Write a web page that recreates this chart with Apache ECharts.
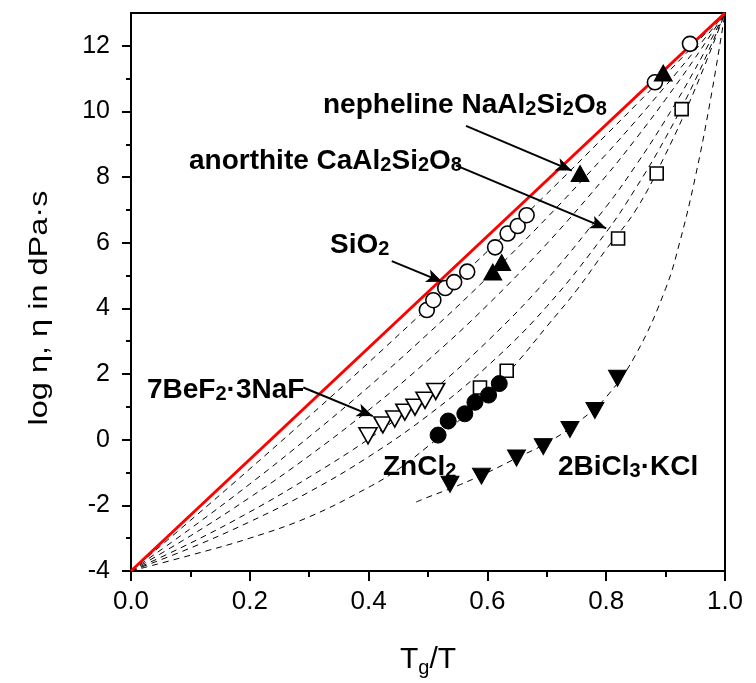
<!DOCTYPE html>
<html><head><meta charset="utf-8">
<script src="https://cdn.jsdelivr.net/npm/echarts@6/dist/echarts.min.js"></script>
<style>html,body{margin:0;padding:0;background:#fff}#c{width:756px;height:683px}</style>
</head><body><div id="c"></div>
<script>
// ---- data ----
const curveX = [0, 0.1, 0.2, 0.3, 0.4, 0.5, 0.6, 0.7, 0.8, 0.85, 0.9, 0.95, 1.0];
const curveA = [-4, -2.46, -0.89, 0.71, 2.35, 4.03, 5.74, 7.49, 9.29, 10.20, 11.12, 12.06, 13];
const curveB = [-4, -2.71, -1.35, 0.09, 1.61, 3.23, 4.94, 6.76, 8.70, 9.72, 10.78, 11.87, 13];
const curveC = [-4, -2.93, -1.76, -0.49, 0.90, 2.42, 4.10, 5.97, 8.04, 9.17, 10.37, 11.64, 13];
const curveD = [-4, -3.15, -2.20, -1.14, 0.02, 1.38, 3.00, 4.88, 7.10, 8.36, 9.75, 11.30, 13];
const curveE = [-4, -3.30, -2.50, -1.59, -0.52, 0.74, 2.24, 4.06, 6.32, 7.67, 9.20, 10.96, 13];
const curveFX = [0, 0.1, 0.2, 0.3, 0.4, 0.45, 0.5, 0.55, 0.6, 0.65, 0.7, 0.75, 0.8, 0.85, 0.9, 0.95, 1.0];
const curveF = [-4, -3.52, -3.0, -2.35, -1.45, -0.9, -0.2, 0.55, 1.35, 2.35, 3.45, 4.55, 5.8, 7.0, 8.7, 10.7, 13];
const curveGX = [0.48, 0.5, 0.55, 0.6, 0.65, 0.7, 0.75, 0.8, 0.85, 0.9, 0.925, 0.95, 0.975, 1.0];
const curveG = [-1.9, -1.75, -1.4, -1.0, -0.55, -0.1, 0.5, 1.3, 2.6, 4.6, 6.1, 8.0, 10.3, 13];
const arrhX = [0, 1];
const arrhY = [-4, 13];

const sio2X = [0.498, 0.509, 0.529, 0.544, 0.566, 0.613, 0.634, 0.651, 0.666, 0.882, 0.941];
const sio2Y = [3.95, 4.25, 4.62, 4.80, 5.12, 5.86, 6.28, 6.51, 6.84, 10.89, 12.06];
const nephX = [0.609, 0.624, 0.756, 0.896];
const nephY = [5.11, 5.40, 8.11, 11.17];
const anorX = [0.5875, 0.6325, 0.820, 0.885, 0.927];
const anorY = [1.59, 2.10, 6.13, 8.11, 10.07];
const zncX = [0.517, 0.534, 0.562, 0.579, 0.602, 0.620];
const zncY = [0.14, 0.57, 0.79, 1.14, 1.36, 1.71];
const befX = [0.399, 0.424, 0.444, 0.461, 0.478, 0.495, 0.513];
const befY = [0.12, 0.45, 0.63, 0.84, 0.99, 1.20, 1.47];
const bicX = [0.537, 0.590, 0.649, 0.694, 0.739, 0.781, 0.819];
const bicY = [-1.36, -1.11, -0.56, -0.21, 0.31, 0.89, 1.87];

const yMajor = [-4, -2, 0, 2, 4, 6, 8, 10, 12];
const yMinor = [-3, -1, 1, 3, 5, 7, 9, 11];

// arrows: [from, to] in data coordinates
const arrows = [
  [[0.564, 9.56], [0.742, 8.2]],
  [[0.547, 8.36], [0.800, 6.44]],
  [[0.439, 5.44], [0.524, 4.81]],
  [[0.290, 1.59], [0.407, 0.72]]
];

// ---- build ----
const zip = (xs, ys) => xs.map((x, i) => [x, ys[i]]);
const F = "'Liberation Sans', Arial, sans-serif";

function dashed(xs, ys) {
  return {type: 'line', data: zip(xs, ys), showSymbol: false, smooth: 0.4,
    silent: true, z: 1, lineStyle: {color: '#000', width: 1, type: [6, 5]}};
}
function scat(xs, ys, symbol, size, filled, rot) {
  return {type: 'scatter', data: zip(xs, ys), symbol: symbol, symbolSize: size, symbolRotate: rot || 0,
    z: 5, silent: true,
    itemStyle: filled ? {color: '#000', borderColor: '#000', borderWidth: 1, opacity: 1}
                      : {color: '#fff', borderColor: '#000', borderWidth: 1.6, opacity: 1}};
}

const chart = echarts.init(document.getElementById('c'), null, {renderer: 'canvas'});
const rich = {
  a: {fontSize: 28, fontWeight: 'bold', fontFamily: F, fill: '#000', color: '#000'},
  s: {fontSize: 20, fontWeight: 'bold', fontFamily: F, fill: '#000', color: '#000', padding: [8, 0, 0, 0]}
};
function txt(x, y, t) {
  return {type: 'text', x: x, y: y, silent: true, z: 100,
    style: {text: t, rich: rich, verticalAlign: 'middle', align: 'left', fill: '#000'}};
}

chart.setOption({
  animation: false,
  backgroundColor: '#fff',
  grid: {left: 131, right: 31, top: 13, bottom: 107, show: true, borderColor: '#000', borderWidth: 2, backgroundColor: 'transparent'},
  xAxis: {
    type: 'value', min: 0, max: 1, interval: 0.2,
    axisLine: {onZero: false, lineStyle: {color: '#000', width: 2}},
    axisTick: {length: 10, lineStyle: {color: '#000', width: 2}},
    minorTick: {show: true, splitNumber: 2, length: 6, lineStyle: {color: '#000', width: 2}},
    splitLine: {show: false}, minorSplitLine: {show: false},
    axisLabel: {formatter: v => v.toFixed(1), fontSize: 26, color: '#000', margin: 18, fontFamily: F},
    name: '{t|T}{s|g}{t|/T}', nameLocation: 'middle', nameGap: 71,
    nameTextStyle: {rich: {t: {fontSize: 30, fontFamily: F, color: '#000'}, s: {fontSize: 20, fontFamily: F, color: '#000', padding: [16, 0, 0, 0]}}}
  },
  yAxis: [{
    type: 'value', min: -4, max: 13,
    axisLine: {onZero: false, lineStyle: {color: '#000', width: 2}},
    axisTick: {length: 9, customValues: yMajor, lineStyle: {color: '#000', width: 2}},
    splitLine: {show: false},
    axisLabel: {customValues: yMajor, fontSize: 25, color: '#000', margin: 21, fontFamily: F}
  }, {
    type: 'value', min: -4, max: 13, position: 'left',
    axisLine: {show: false},
    axisTick: {length: 5, customValues: yMinor, lineStyle: {color: '#000', width: 2}},
    axisLabel: {show: false}, splitLine: {show: false}
  }],
  series: [
    dashed(curveX, curveA), dashed(curveX, curveB), dashed(curveX, curveC), dashed(curveX, curveD),
    dashed(curveX, curveE), dashed(curveFX, curveF), dashed(curveGX, curveG),
    {type: 'line', data: zip(arrhX, arrhY), showSymbol: false, silent: true, z: 3,
      lineStyle: {color: '#ff0000', width: 3},
      markLine: {silent: true, symbol: ['none', 'arrow'], symbolSize: [10, 16], animation: false,
        label: {show: false}, lineStyle: {color: '#000', width: 2, type: 'solid'},
        data: arrows.map(a => [{coord: a[0]}, {coord: a[1]}])}},
    scat(sio2X, sio2Y, 'circle', 15, false),
    scat(nephX, nephY, 'triangle', [18, 16], true),
    scat(anorX, anorY, 'rect', 13, false),
    scat(zncX, zncY, 'circle', 16, true),
    scat(befX, befY, 'triangle', [18, 16], false, 180),
    scat(bicX, bicY, 'triangle', [18, 16], true, 180)
  ],
  graphic: [
    {type: 'text', x: 40, y: 308, rotation: Math.PI / 2, scaleX: 1.3, scaleY: 1, silent: true, z: 100,
      style: {text: 'log η, η in dPa·s', font: "25px 'Liberation Sans', Arial, sans-serif", fill: '#000', align: 'center', verticalAlign: 'middle'}},
    txt(323, 105, '{a|nepheline NaAl}{s|2}{a|Si}{s|2}{a|O}{s|8}'),
    txt(189, 161, '{a|anorthite CaAl}{s|2}{a|Si}{s|2}{a|O}{s|8}'),
    txt(330, 245, '{a|SiO}{s|2}'),
    txt(147, 390, '{a|7BeF}{s|2}{a|·3NaF}'),
    txt(383, 467, '{a|ZnCl}{s|2}'),
    txt(558, 467, '{a|2BiCl}{s|3}{a|·KCl}')
  ]
});
</script></body></html>
